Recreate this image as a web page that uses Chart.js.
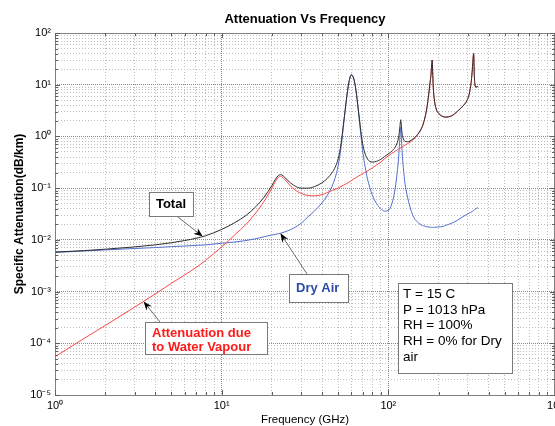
<!DOCTYPE html>
<html>
<head>
<meta charset="utf-8">
<title>Attenuation Vs Frequency</title>
<script src="https://cdn.jsdelivr.net/npm/chart.js@4.4.0/dist/chart.umd.min.js"></script>
<style>
  html, body { margin: 0; padding: 0; background: #fff; }
  #wrap { width: 555px; height: 426px; }
</style>
</head>
<body>
<div id="wrap"><canvas id="attChart" width="555" height="426"></canvas></div>
<script>
// frequency grid in GHz, shared by the three curves
const freqGHz = [
  1, 1.5, 2, 3, 4, 5, 6, 7, 8, 10,
  12, 14, 16, 18, 20, 21, 22, 22.5, 23, 24,
  25, 27, 30, 33, 36, 40, 43, 46, 48, 50,
  52, 54, 56, 58, 60, 62, 64, 66, 68, 70,
  72, 75, 80, 85, 90, 95, 100, 105, 110, 113,
  115, 116.5, 117.5, 118.75, 119.5, 121, 123, 126, 130, 140,
  150, 160, 165, 170, 175, 178, 180, 182, 183.3, 184.5,
  186, 190, 195, 200, 210, 220, 240, 260, 280, 295,
  305, 312, 317, 321, 325, 328, 331, 335, 340, 345
];

// specific attenuation, dB/km
const dryAir = [
  0.0057, 0.0061, 0.0064, 0.0068, 0.0071, 0.0074, 0.0076, 0.0078, 0.0080, 0.0086,
  0.0091, 0.0097, 0.0105, 0.0115, 0.0124, 0.0128, 0.0132, 0.0134, 0.0137, 0.0143,
  0.0150, 0.0168, 0.021, 0.028, 0.036, 0.052, 0.072, 0.11, 0.16, 0.27,
  0.6, 1.8, 5.0, 11, 15.6, 13, 7.5, 3.2, 1.3, 0.55,
  0.3, 0.15, 0.075, 0.05, 0.04, 0.036, 0.037, 0.05, 0.1, 0.2,
  0.35, 0.65, 1.0, 1.5, 1.1, 0.5, 0.25, 0.12, 0.07, 0.03,
  0.022, 0.019, 0.0185, 0.018, 0.0177, 0.0176, 0.0175, 0.0175, 0.0175, 0.0175,
  0.0175, 0.0175, 0.0176, 0.0178, 0.018, 0.019, 0.021, 0.024, 0.028, 0.031,
  0.033, 0.034, 0.035, 0.036, 0.037, 0.038, 0.039, 0.040, 0.041, 0.042
];

const waterVapour = [
  0.000055, 0.000125, 0.00022, 0.0005, 0.0009, 0.00145, 0.0021, 0.0029, 0.0040, 0.0073,
  0.0125, 0.020, 0.033, 0.056, 0.10, 0.135, 0.165, 0.17, 0.165, 0.145,
  0.125, 0.097, 0.079, 0.072, 0.071, 0.075, 0.082, 0.09, 0.095, 0.10,
  0.107, 0.115, 0.122, 0.13, 0.14, 0.15, 0.16, 0.17, 0.18, 0.19,
  0.2, 0.215, 0.245, 0.28, 0.32, 0.37, 0.42, 0.47, 0.52, 0.55,
  0.57, 0.58, 0.59, 0.6, 0.61, 0.63, 0.65, 0.68, 0.72, 0.85,
  1.08, 1.55, 2.15, 3.4, 6.8, 11, 15, 24, 30, 18,
  9, 4.5, 3.2, 2.8, 2.45, 2.35, 2.5, 3.05, 3.85, 4.8,
  6.4, 9.5, 15, 26, 40, 15, 10, 9, 9, 9.4
];

const totalAtt = [
  0.0058, 0.0062, 0.0066, 0.0073, 0.0080, 0.0088, 0.0097, 0.0107, 0.0120, 0.0159,
  0.0216, 0.0297, 0.0435, 0.0675, 0.112, 0.148, 0.178, 0.183, 0.179, 0.159,
  0.14, 0.114, 0.100, 0.100, 0.107, 0.127, 0.154, 0.20, 0.255, 0.37,
  0.71, 1.9, 5.1, 11.1, 15.7, 13.2, 7.7, 3.4, 1.5, 0.74,
  0.5, 0.365, 0.32, 0.33, 0.36, 0.41, 0.46, 0.52, 0.62, 0.75,
  0.92, 1.23, 1.59, 2.1, 1.71, 1.13, 0.9, 0.8, 0.79, 0.88,
  1.1, 1.57, 2.17, 3.42, 6.82, 11, 15, 24, 30, 18,
  9, 4.5, 3.2, 2.8, 2.47, 2.37, 2.52, 3.07, 3.88, 4.83,
  6.43, 9.53, 15, 26, 40, 15, 10, 9, 9, 9.4
];

// decades shown on each axis
const xDecades = [0, 1, 2, 3];
const yDecades = [-5, -4, -3, -2, -1, 0, 1, 2];

const conditions = ['T = 15 C', 'P = 1013 hPa', 'RH = 100%', 'RH = 0% for Dry', 'air'];

const FONT = '"Liberation Sans", Arial, Helvetica, sans-serif';
const SUP = { '0': '\u2070', '1': '\u00B9', '2': '\u00B2', '3': '\u00B3', '4': '\u2074',
              '5': '\u2075', '6': '\u2076', '7': '\u2077', '8': '\u2078', '9': '\u2079', '-': '\u207B' };

function decadeTicks(decs) {
  const out = [];
  for (let i = 0; i < decs.length - 1; i++) {
    for (let m = 1; m <= 9; m++) out.push({ value: m * Math.pow(10, decs[i]) });
  }
  out.push({ value: Math.pow(10, decs[decs.length - 1]) });
  return out;
}

function isDecade(v) {
  const l = Math.log10(v);
  return Math.abs(l - Math.round(l)) < 1e-6;
}

function powLabel(v) {
  if (!isDecade(v)) return '';
  const e = String(Math.round(Math.log10(v)));
  return '10' + e.split('').map(c => SUP[c]).join('');
}

function toPoints(series) {
  return freqGHz.map((f, i) => ({ x: f, y: series[i] }));
}

// log-log lookup used to hang the callout arrows on a curve
function valueAt(series, f) {
  for (let i = 0; i < freqGHz.length - 1; i++) {
    if (f >= freqGHz[i] && f <= freqGHz[i + 1]) {
      const t = (Math.log(f) - Math.log(freqGHz[i])) / (Math.log(freqGHz[i + 1]) - Math.log(freqGHz[i]));
      return Math.exp(Math.log(series[i]) + t * (Math.log(series[i + 1]) - Math.log(series[i])));
    }
  }
  return series[series.length - 1];
}

const gridColor = ctx => ctx.tick && isDecade(ctx.tick.value) ? '#8a8a8a' : '#bdbdbd';
const gridDash = ctx => ctx.tick && isDecade(ctx.tick.value) ? [1, 1] : [1, 2];

function axisOptions(decs, side) {
  return {
    type: 'logarithmic',
    min: Math.pow(10, decs[0]),
    max: Math.pow(10, decs[decs.length - 1]),
    afterBuildTicks: scale => { scale.ticks = decadeTicks(decs); },
    grid: { color: gridColor, lineWidth: 1, drawTicks: false },
    border: { display: false, dash: gridDash },
    ticks: {
      autoSkip: false,
      maxRotation: 0,
      padding: side === 'x' ? 4 : 4,
      color: '#000',
      font: { family: FONT, size: 11 },
      callback: v => powLabel(v)
    }
  };
}

function drawArrow(ctx, x0, y0, x1, y1) {
  const ang = Math.atan2(y1 - y0, x1 - x0);
  const len = 9, half = 3.5;
  ctx.strokeStyle = '#444';
  ctx.lineWidth = 0.8;
  ctx.beginPath();
  ctx.moveTo(x0, y0);
  ctx.lineTo(x1 - Math.cos(ang) * len * 0.7, y1 - Math.sin(ang) * len * 0.7);
  ctx.stroke();
  ctx.fillStyle = '#000';
  ctx.beginPath();
  ctx.moveTo(x1, y1);
  ctx.lineTo(x1 - Math.cos(ang) * len + Math.sin(ang) * half, y1 - Math.sin(ang) * len - Math.cos(ang) * half);
  ctx.lineTo(x1 - Math.cos(ang) * len * 0.7, y1 - Math.sin(ang) * len * 0.7);
  ctx.lineTo(x1 - Math.cos(ang) * len - Math.sin(ang) * half, y1 - Math.sin(ang) * len + Math.cos(ang) * half);
  ctx.closePath();
  ctx.fill();
}

function drawBox(ctx, x, y, w, h) {
  ctx.fillStyle = '#fff';
  ctx.fillRect(x, y, w, h);
  ctx.strokeStyle = '#7a7a7a';
  ctx.lineWidth = 1;
  ctx.strokeRect(x + 0.5, y + 0.5, w, h);
}

// frame, titles, inward ticks and the callouts
const decorations = {
  id: 'decorations',
  afterDraw(chart) {
    const ctx = chart.ctx;
    const a = chart.chartArea;
    const xs = chart.scales.x, ys = chart.scales.y;
    ctx.save();

    // axis frame
    ctx.strokeStyle = '#808080';
    ctx.lineWidth = 1;
    ctx.strokeRect(Math.round(a.left) + 0.5, Math.round(a.top) + 0.5,
                   Math.round(a.right - a.left) - 1, Math.round(a.bottom - a.top));

    // small inward ticks on all four sides
    ctx.strokeStyle = '#606060';
    ctx.beginPath();
    xs.ticks.forEach(t => {
      const px = Math.round(xs.getPixelForValue(t.value)) + 0.5;
      const l = isDecade(t.value) ? 5 : 3;
      ctx.moveTo(px, a.bottom); ctx.lineTo(px, a.bottom - l);
      ctx.moveTo(px, a.top); ctx.lineTo(px, a.top + l);
    });
    ys.ticks.forEach(t => {
      const py = Math.round(ys.getPixelForValue(t.value)) + 0.5;
      const l = isDecade(t.value) ? 5 : 3;
      ctx.moveTo(a.left, py); ctx.lineTo(a.left + l, py);
      ctx.moveTo(a.right, py); ctx.lineTo(a.right - l, py);
    });
    ctx.stroke();

    // titles
    const cx = (a.left + a.right) / 2;
    ctx.fillStyle = '#000';
    ctx.textAlign = 'center';
    ctx.textBaseline = 'middle';
    ctx.font = 'bold 13px ' + FONT;
    ctx.fillText('Attenuation Vs Frequency', cx, 19);
    ctx.font = '11.5px ' + FONT;
    ctx.fillText('Frequency (GHz)', cx, 420);
    ctx.save();
    ctx.translate(20, (a.top + a.bottom) / 2);
    ctx.rotate(-Math.PI / 2);
    ctx.font = 'bold 12px ' + FONT;
    ctx.fillText('Specific Attenuation(dB/km)', 0, 0);
    ctx.restore();

    const px = f => xs.getPixelForValue(f);
    const py = v => ys.getPixelForValue(v);

    // "Total" callout
    drawArrow(ctx, 178, 217, px(7.7), py(valueAt(totalAtt, 7.7)));
    drawBox(ctx, 149, 192, 44, 24);
    ctx.font = 'bold 13px ' + FONT;
    ctx.fillStyle = '#000';
    ctx.fillText('Total', 171, 204);

    // "Dry Air" callout
    drawArrow(ctx, 307, 274, px(22.5), py(valueAt(dryAir, 22.5)));
    drawBox(ctx, 289, 274, 59, 28);
    ctx.fillStyle = '#2a4ca8';
    ctx.textAlign = 'left';
    ctx.fillText('Dry Air', 296, 288);

    // water vapour callout
    drawArrow(ctx, 160, 322, px(3.4), py(valueAt(waterVapour, 3.4)));
    drawBox(ctx, 145, 322, 122, 32);
    ctx.fillStyle = '#ff1a1a';
    ctx.fillText('Attenuation due', 152, 333.5);
    ctx.fillText('to Water Vapour', 152, 347.5);

    // conditions box
    drawBox(ctx, 398, 283, 114, 90);
    ctx.fillStyle = '#000';
    ctx.font = '13.5px ' + FONT;
    conditions.forEach((s, i) => ctx.fillText(s, 403, 294.5 + i * 15.6));

    ctx.restore();
  }
};

const xOpts = axisOptions(xDecades, 'x');
xOpts.afterFit = scale => { scale.height = 31; scale.paddingLeft = 0; scale.paddingRight = 0; };
const yOpts = axisOptions(yDecades, 'y');
yOpts.afterFit = scale => { scale.width = 55; scale.paddingTop = 0; scale.paddingBottom = 0; };

new Chart(document.getElementById('attChart'), {
  type: 'line',
  data: {
    datasets: [
      { label: 'Total', data: toPoints(totalAtt), borderColor: 'rgb(45,45,45)', borderWidth: 1,
        pointRadius: 0, cubicInterpolationMode: 'monotone', order: 0 },
      { label: 'Attenuation due to Water Vapour', data: toPoints(waterVapour), borderColor: 'rgb(255,70,70)',
        borderWidth: 1, pointRadius: 0, cubicInterpolationMode: 'monotone', order: 1 },
      { label: 'Dry Air', data: toPoints(dryAir), borderColor: 'rgb(80,110,205)', borderWidth: 1,
        pointRadius: 0, cubicInterpolationMode: 'monotone', order: 2 }
    ]
  },
  options: {
    responsive: false,
    animation: false,
    devicePixelRatio: 1,
    layout: { padding: { top: 33, right: 0, bottom: 0, left: 0 } },
    plugins: {
      legend: { display: false },
      tooltip: { enabled: false },
      title: { display: false }
    },
    scales: { x: xOpts, y: yOpts }
  },
  plugins: [decorations]
});
</script>
</body>
</html>
